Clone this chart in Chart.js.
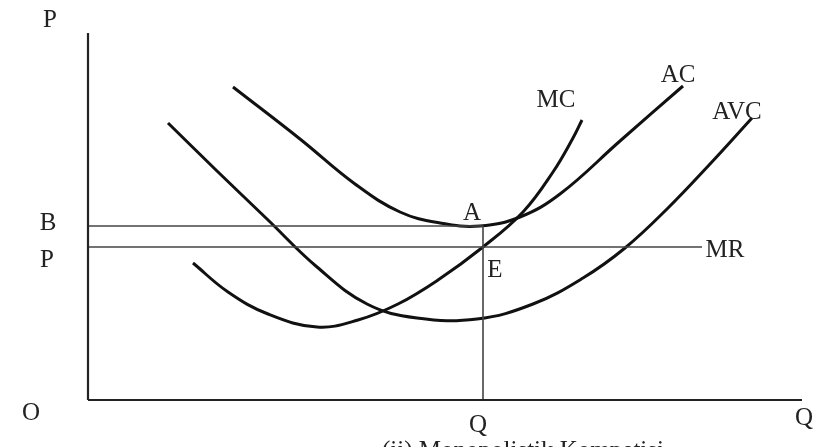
<!DOCTYPE html>
<html>
<head>
<meta charset="utf-8">
<script src="https://cdn.jsdelivr.net/npm/chart.js@4"></script>
<style>
  body { margin: 0; background: #fff; }
  #wrap { width: 818px; height: 447px; }
</style>
</head>
<body>
<div id="wrap"><canvas id="myChart" width="818" height="447"></canvas></div>
<script>
// cost curves, quantity (x) vs price (y), origin at O
const acCurve = [[145,313],[212,261],[267,216],[312,188],[352,177],[392,174],[432,183],[472,206],[532,259],[595,314]];
const mcCurve = [[105,137],[140,108],[180,86],[229,73],[270,80],[310,96],[350,120],[395,153],[435,188],[465,228],[485,262],[494,280]];
const avcCurve = [[80,277],[129,229],[179,181],[229,133],[279,96],[329,82],[389,81],[445,96],[495,122],[537,152],[579,191],[622,236],[664,282]];

// axes and reference lines
const priceAxis = [[0,367],[0,0]];
const qtyAxis = [[0,0],[714,0]];
const bLine = [[0,174],[395,174]];
const mrLine = [[0,153],[614,153]];
const qLine = [[395,174],[395,0]];

// text labels
const labelText = ["P", "B", "P", "O", "Q", "Q", "MC", "AC", "AVC", "MR", "A", "E"];
const labelPos = [[-38,380],[-40,177],[-41,140],[-57,-13],[390,-25],[716,-18],[468,300],[590,325],[649,288],[637,150],[384,187],[407,130]];
const caption = "(ii) Monopolistik Kompetisi";

const toXY = arr => arr.map(p => ({ x: p[0], y: p[1] }));

const curveStyle = { borderColor: '#111', borderWidth: 3, pointRadius: 0, showLine: true, tension: 0.4, fill: false };
const axisStyle = { borderColor: '#222', borderWidth: 2.2, pointRadius: 0, showLine: true, tension: 0, fill: false };
const thinStyle = { borderColor: '#444', borderWidth: 1.6, pointRadius: 0, showLine: true, tension: 0, fill: false };

const labelsPlugin = {
  id: 'labels',
  afterDatasetsDraw(chart) {
    const ctx = chart.ctx;
    const sx = chart.scales.x, sy = chart.scales.y;
    ctx.save();
    ctx.fillStyle = '#222';
    ctx.font = '25px "Liberation Serif", "Times New Roman", serif';
    ctx.textAlign = 'center';
    ctx.textBaseline = 'middle';
    labelText.forEach((t, i) => {
      ctx.fillText(t, sx.getPixelForValue(labelPos[i][0]), sy.getPixelForValue(labelPos[i][1]));
    });
    ctx.textBaseline = 'top';
    ctx.fillText(caption, sx.getPixelForValue(435), sy.getPixelForValue(-39));
    ctx.restore();
  }
};

new Chart(document.getElementById('myChart'), {
  type: 'scatter',
  data: {
    datasets: [
      { ...axisStyle, data: toXY(priceAxis) },
      { ...axisStyle, data: toXY(qtyAxis) },
      { ...thinStyle, data: toXY(bLine) },
      { ...thinStyle, data: toXY(mrLine) },
      { ...thinStyle, data: toXY(qLine) },
      { ...curveStyle, data: toXY(acCurve) },
      { ...curveStyle, data: toXY(mcCurve) },
      { ...curveStyle, data: toXY(avcCurve) }
    ]
  },
  options: {
    responsive: false,
    animation: false,
    layout: { padding: 0 },
    plugins: { legend: { display: false }, tooltip: { enabled: false } },
    scales: {
      x: { type: 'linear', display: false, min: -88, max: 730 },
      y: { type: 'linear', display: false, min: -47, max: 400 }
    }
  },
  plugins: [labelsPlugin]
});
</script>
</body>
</html>
